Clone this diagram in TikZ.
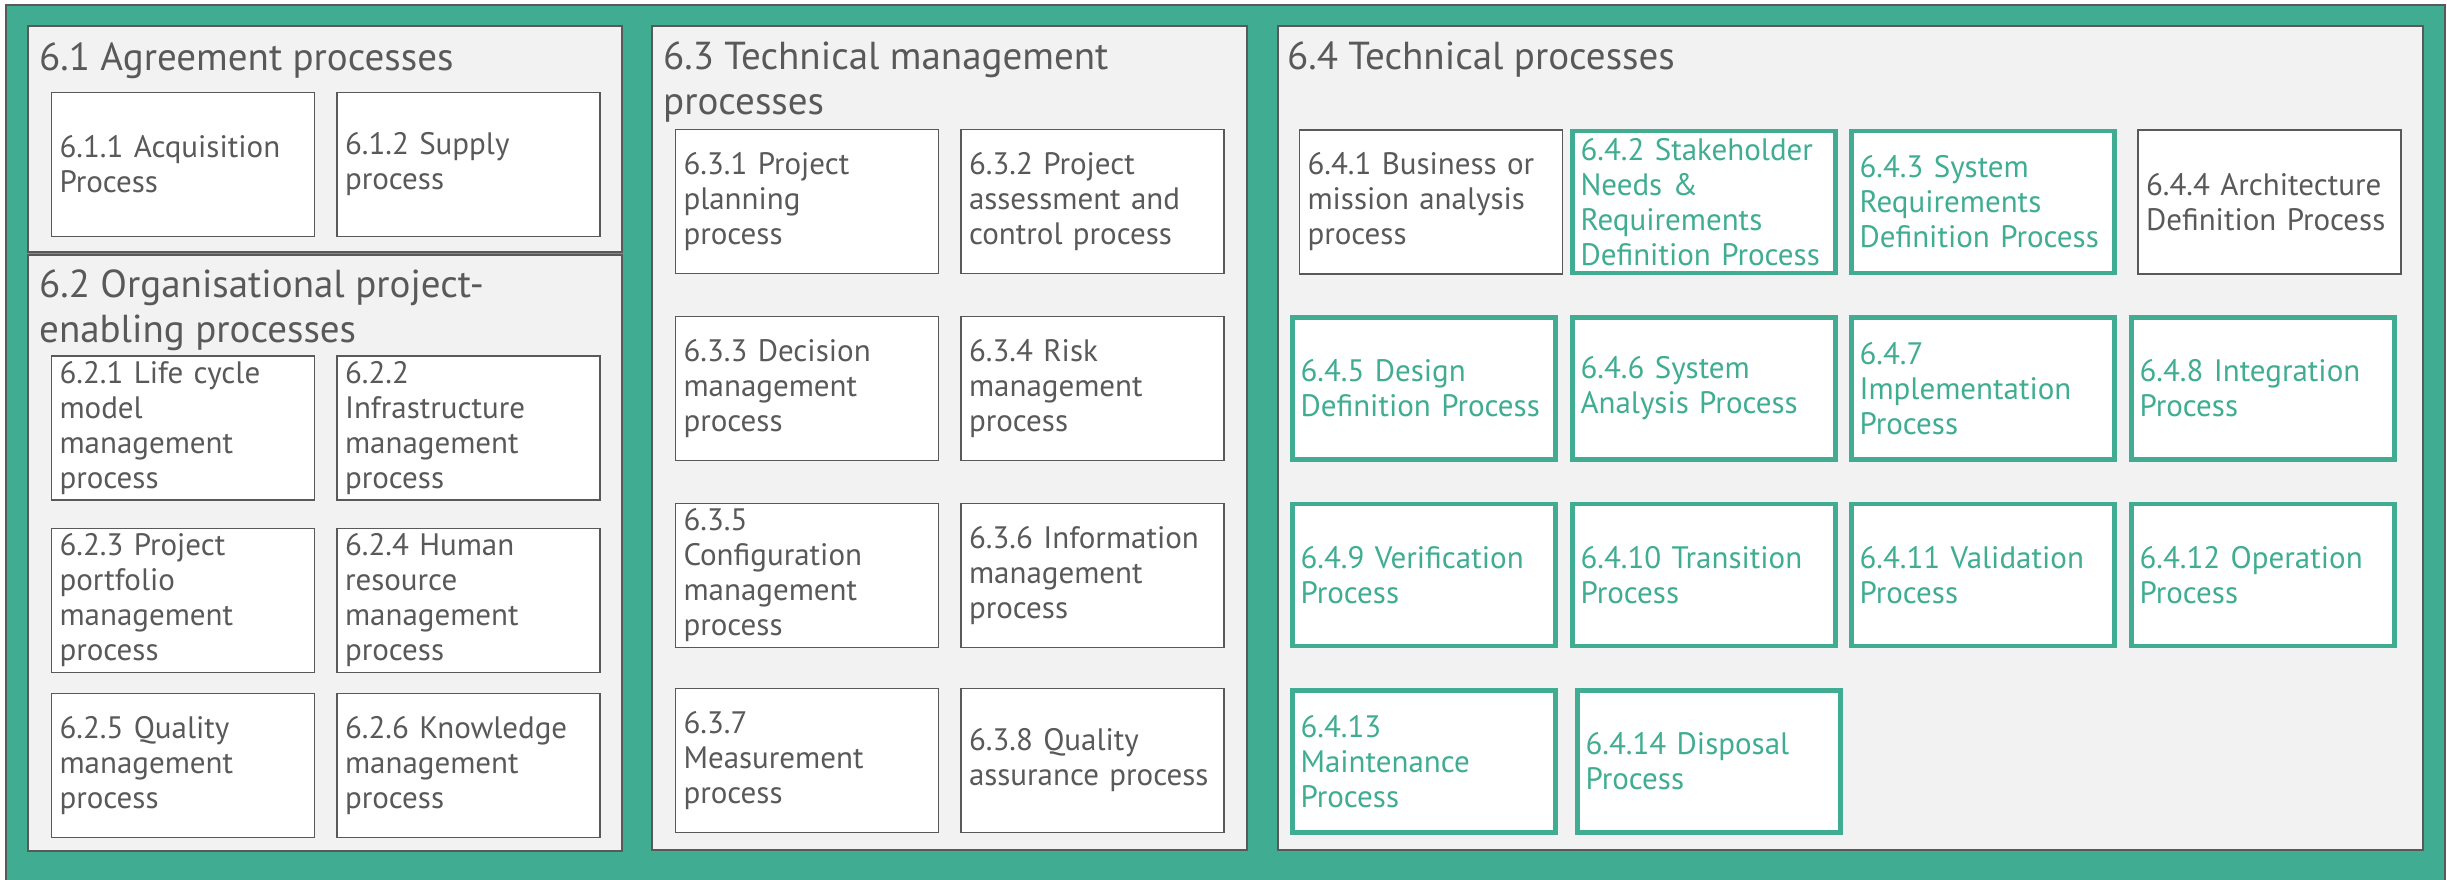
\documentclass[tikz,border=0pt]{standalone}
\usepackage{fontspec}
\setmainfont{PT Sans}
\usepackage{tikz}
\definecolor{edge}{HTML}{595959}
\definecolor{ink}{HTML}{595959}
\definecolor{panel}{HTML}{F2F2F2}
\definecolor{sea}{HTML}{40AD92}
\tikzset{
  frameback/.style={draw=edge, line width=1.5pt, fill=sea},
  grpbox/.style={draw=edge, line width=2pt, fill=panel},
  grptitle/.style={text=ink, anchor=west, align=left, inner sep=0pt, font=\fontsize{39}{45}\selectfont},
  procbox/.style={draw=edge, line width=1.5pt, fill=white, text=ink, align=left,
    text width=247pt, inner xsep=8pt, inner ysep=0pt,
    minimum width=263pt, minimum height=144pt, font=\fontsize{31}{35}\selectfont},
  corebox/.style={procbox, draw=sea, text=sea, line width=4.5pt,
    minimum width=262pt, minimum height=142pt}
}

\begin{document}
\begin{tikzpicture}[x=1pt, y=-1pt]
  \useasboundingbox (0,0) rectangle (2447,879);
  \draw[frameback] (6,5) rectangle (2445,895);

  % Group panels
  \draw[grpbox] (28,26) rectangle (622,252);
  \draw[grpbox] (28,255) rectangle (622,851);
  \draw[grpbox] (652,26) rectangle (1247,850);
  \draw[grpbox] (1278,26) rectangle (2423,850);

  \node[grptitle] (t61) at (39,61) {6.1 Agreement processes};
  \node[grptitle] (t62) at (39,310) {6.2 Organisational project-\\enabling processes};
  \node[grptitle] (t63) at (663,82) {6.3 Technical management\\processes};
  \node[grptitle] (t64) at (1287,60) {6.4 Technical processes};

  % 6.1 Agreement
  \node[procbox] (p611) at (183,164.5) {6.1.1 Acquisition\\Process};
  \node[procbox] (p612) at (468.5,164.5) {6.1.2 Supply\\process};

  % 6.2 Organisational project-enabling
  \node[procbox] (p621) at (183,428) {6.2.1 Life cycle\\model\\management\\process};
  \node[procbox] (p622) at (468.5,428) {6.2.2\\Infrastructure\\management\\process};
  \node[procbox] (p623) at (183,600.5) {6.2.3 Project\\portfolio\\management\\process};
  \node[procbox] (p624) at (468.5,600.5) {6.2.4 Human\\resource\\management\\process};
  \node[procbox] (p625) at (183,765.5) {6.2.5 Quality\\management\\process};
  \node[procbox] (p626) at (468.5,765.5) {6.2.6 Knowledge\\management\\process};

  % 6.3 Technical management
  \node[procbox] (p631) at (807,201.5) {6.3.1 Project\\planning\\process};
  \node[procbox] (p632) at (1092.5,201.5) {6.3.2 Project\\assessment and\\control process};
  \node[procbox] (p633) at (807,388.5) {6.3.3 Decision\\management\\process};
  \node[procbox] (p634) at (1092.5,388.5) {6.3.4 Risk\\management\\process};
  \node[procbox] (p635) at (807,575.5) {6.3.5\\Configuration\\management\\process};
  \node[procbox] (p636) at (1092.5,575.5) {6.3.6 Information\\management\\process};
  \node[procbox] (p637) at (807,760.5) {6.3.7\\Measurement\\process};
  \node[procbox] (p638) at (1092.5,760.5) {6.3.8 Quality\\assurance process};

  % 6.4 Technical
  \node[procbox] (p641) at (1431,202) {6.4.1 Business or\\mission analysis\\process};
  \node[corebox] (p642) at (1704,202) {6.4.2 Stakeholder\\Needs \&\\Requirements\\Definition Process};
  \node[corebox] (p643) at (1983,202) {6.4.3 System\\Requirements\\Definition Process};
  \node[procbox] (p644) at (2269.5,202) {6.4.4 Architecture\\Definition Process};

  \node[corebox] (p645) at (1424,388.5) {6.4.5 Design\\Definition Process};
  \node[corebox] (p646) at (1704,388.5) {6.4.6 System\\Analysis Process};
  \node[corebox] (p647) at (1983,388.5) {6.4.7\\Implementation\\Process};
  \node[corebox] (p648) at (2263,388.5) {6.4.8 Integration\\Process};

  \node[corebox] (p649) at (1424,575) {6.4.9 Verification\\Process};
  \node[corebox] (p6410) at (1704,575) {6.4.10 Transition\\Process};
  \node[corebox] (p6411) at (1983,575) {6.4.11 Validation\\Process};
  \node[corebox] (p6412) at (2263,575) {6.4.12 Operation\\Process};

  \node[corebox] (p6413) at (1424,761.5) {6.4.13\\Maintenance\\Process};
  \node[corebox] (p6414) at (1709,761.5) {6.4.14 Disposal\\Process};
\end{tikzpicture}
\end{document}
